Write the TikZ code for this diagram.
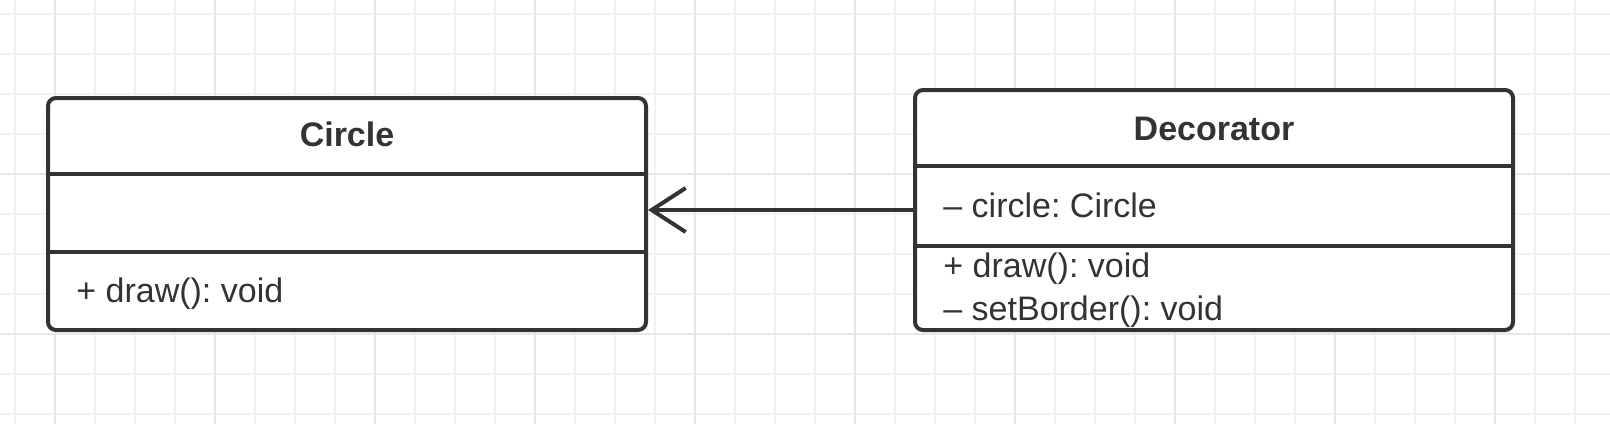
\documentclass[tikz,border=0pt]{standalone}
\usepackage{fontspec}
\setmainfont{Liberation Sans}
\usetikzlibrary{positioning, calc, arrows.meta}
\definecolor{ink}{HTML}{333333}
\definecolor{gridlight}{HTML}{F2F2F2}
\definecolor{griddark}{HTML}{E7E7E7}
\frenchspacing

\begin{document}
\begin{tikzpicture}[x=0.5pt, y=-0.5pt,
    classbox/.style={draw=ink, 
      line width=2pt, 
      rounded corners=4pt, 
      fill=white, 
      minimum width=299pt, 
      inner sep=0pt},
    divider/.style={draw=ink, line width=2pt},
    classname/.style={anchor=base, 
      inner sep=0pt, 
      text=ink, 
      font=\fontsize{17}{20}\selectfont\bfseries},
    member/.style={anchor=base west, 
      inner sep=0pt, 
      text=ink, 
      font=\fontsize{17}{20}\selectfont},
    assoc/.style={draw=ink, 
      line width=2pt, 
      -{Straight Barb[length=17pt, width=22pt]}}]

  \useasboundingbox (0,0) rectangle (1610,424);

% GRID

  \foreach \x in {15,55,...,1610}
    \draw[gridlight, line width=1pt] (\x,0) -- (\x,424);
  \foreach \y in {14,54,...,424}
    \draw[gridlight, line width=1pt] (0,\y) -- (1610,\y);
  \foreach \x in {55,215,...,1610}
    \draw[griddark, line width=1pt] (\x,0) -- (\x,424);
  \foreach \y in {174,334}
    \draw[griddark, line width=1pt] (0,\y) -- (1610,\y);

% CLASSES

  \node [classbox, minimum height=116pt] (circle) at (347,214) {};

  \node [classbox, minimum height=120pt] (decorator) at (1214,210) {};

  \draw[divider] ($(circle.north west) + (0,78)$) 
  -- ($(circle.north east) + (0,78)$);
  \draw[divider] ($(circle.north west) + (0,156)$) 
  -- ($(circle.north east) + (0,156)$);

  \draw[divider] ($(decorator.north west) + (0,78)$) 
  -- ($(decorator.north east) + (0,78)$);
  \draw[divider] ($(decorator.north west) + (0,158)$) 
  -- ($(decorator.north east) + (0,158)$);

  \node [classname] (circletitle) at ($(circle.north) + (0,50)$) {Circle};
  \node [member] (circledraw) at ($(circle.north west) + (30,206)$) 
    {+ draw(): void};

  \node [classname] (decoratortitle) at ($(decorator.north) + (0,52)$) 
    {Decorator};
  \node [member] (decoratorfield) at ($(decorator.north west) + (30,129)$) 
    {\textendash{} circle: Circle};
  \node [member] (decoratordraw) at ($(decorator.north west) + (30,189)$) 
    {+ draw(): void};
  \node [member] (decoratorborder) at ($(decorator.north west) + (30,232)$) 
    {\textendash{} setBorder(): void};

% ASSOCIATION

  \draw[assoc] (decorator.west) -- (decorator.west -| circle.east);

\end{tikzpicture}
\end{document}
